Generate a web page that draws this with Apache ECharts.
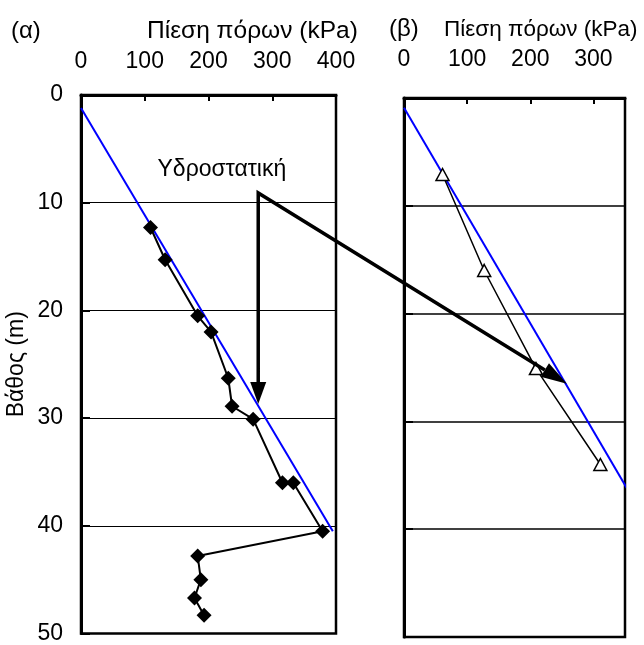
<!DOCTYPE html>
<html>
<head>
<meta charset="utf-8">
<script src="https://cdn.jsdelivr.net/npm/echarts@6/dist/echarts.min.js"></script>
<style>
  html, body { margin: 0; padding: 0; background: #fff; }
  #chart { width: 644px; height: 645px; }
</style>
</head>
<body>
<div id="chart"></div>
<script>
const FONT = '"Liberation Sans", Arial, sans-serif';

// Panel (α): measured pore pressure with depth
const depthA    = [12.3, 15.3, 20.5, 22.0, 26.3, 28.9, 30.1, 36.0, 36.0, 40.5, 42.8, 45.0, 46.7, 48.3];
const pressureA = [109, 132, 183, 204, 231, 237, 270, 316, 333, 379, 183, 188, 178, 193];
// Panel (α): hydrostatic line
const hydroDepthA    = [1.2, 40.5];
const hydroPressureA = [0, 395];

// Panel (β): measured pore pressure with depth
const depthB    = [7.1, 16.0, 25.1, 34.0];
const pressureB = [61, 127, 209, 311];
// Panel (β): hydrostatic line
const hydroDepthB    = [0.9, 36.9];
const hydroPressureB = [0, 360];

// Axis ranges
const pressureMaxA = 400;
const pressureMaxB = 350;
const pressureStep = 100;
const depthMax = 50;
const depthStep = 10;

// Annotation anchors, in each panel's own units [kPa, m]
const labelAnchorA = [221, 6.9];
const bendA = [278, 9.1];
const tipDownA = [278, 28.7];
const tipRightB = [258, 26.5];

const pairs = (xs, ys) => xs.map((x, i) => [x, ys[i]]);

const chart = echarts.init(document.getElementById('chart'), null, { renderer: 'canvas' });

const txt = { color: '#000', fontFamily: FONT, fontSize: 23 };
const titleTxt = size => ({ color: '#000', fontFamily: FONT, fontSize: size, fontWeight: 'normal' });

function xAxis(gridIndex, max, margin) {
  return {
    type: 'value', gridIndex, position: 'top', min: 0, max, interval: pressureStep,
    axisLine: { show: true, onZero: false, lineStyle: { color: '#000', width: 3 } },
    axisTick: { show: true, inside: true, length: 6, lineStyle: { color: '#000', width: 2 } },
    axisLabel: Object.assign({ margin, showMaxLabel: max % pressureStep === 0 }, txt),
    splitLine: { show: false }
  };
}

function yAxis(gridIndex, showLabels, gridWidth) {
  return {
    type: 'value', gridIndex, inverse: true, min: 0, max: depthMax, interval: depthStep,
    name: showLabels ? 'Βάθος (m)' : '', nameLocation: 'middle', nameRotate: 90, nameGap: 53,
    nameTextStyle: txt,
    axisLine: { show: true, onZero: false, lineStyle: { color: '#000', width: 3 } },
    axisTick: { show: true, inside: true, length: 9, lineStyle: { color: '#000', width: 2 } },
    axisLabel: Object.assign({ show: showLabels, margin: 18 }, txt),
    splitLine: { show: true, lineStyle: { color: '#000', width: gridWidth } }
  };
}

chart.setOption({
  animation: false,
  backgroundColor: '#fff',
  title: [
    { text: '(α)', left: 6, top: 14, textStyle: titleTxt(24) },
    { text: 'Πίεση πόρων (kPa)', left: 142, top: 14, textStyle: titleTxt(24.5) },
    { text: '(β)', left: 384, top: 12, textStyle: titleTxt(24) },
    { text: 'Πίεση πόρων (kPa)', left: 439, top: 13, textStyle: titleTxt(22.5) }
  ],
  grid: [
    { left: 81, top: 95, width: 255, height: 541, show: true, borderColor: '#000', borderWidth: 2.5, backgroundColor: 'transparent' },
    { left: 404, top: 98, width: 221, height: 539, show: true, borderColor: '#000', borderWidth: 2.5, backgroundColor: 'transparent' }
  ],
  xAxis: [xAxis(0, pressureMaxA, 22), xAxis(1, pressureMaxB, 27)],
  yAxis: [yAxis(0, true, 1), yAxis(1, false, 1.6)],
  series: [
    {
      type: 'line', xAxisIndex: 0, yAxisIndex: 0, data: pairs(hydroPressureA, hydroDepthA),
      showSymbol: false, symbol: 'none', clip: false,
      lineStyle: { color: '#0000ff', width: 2 }, z: 3
    },
    {
      type: 'line', xAxisIndex: 0, yAxisIndex: 0, data: pairs(pressureA, depthA),
      symbol: 'diamond', symbolSize: 15, clip: false,
      lineStyle: { color: '#000', width: 2 }, itemStyle: { color: '#000' }, z: 4
    },
    {
      type: 'line', xAxisIndex: 1, yAxisIndex: 1, data: pairs(hydroPressureB, hydroDepthB),
      showSymbol: false, symbol: 'none', clip: false,
      lineStyle: { color: '#0000ff', width: 2 }, z: 3
    },
    {
      type: 'line', xAxisIndex: 1, yAxisIndex: 1, data: pairs(pressureB, depthB),
      symbol: 'triangle', symbolSize: [13, 12], clip: false,
      lineStyle: { color: '#000', width: 1.5 },
      itemStyle: { color: '#fff', borderColor: '#000', borderWidth: 1.5 }, z: 4
    }
  ]
});

// Arrows and the "Υδροστατική" label, placed from the panels' own scales
function arrowHead(from, tip, len, half) {
  const dx = tip[0] - from[0], dy = tip[1] - from[1];
  const d = Math.hypot(dx, dy), ux = dx / d, uy = dy / d;
  const base = [tip[0] - ux * len, tip[1] - uy * len];
  return {
    base,
    points: [tip, [base[0] - uy * half, base[1] + ux * half], [base[0] + uy * half, base[1] - ux * half]]
  };
}

const bend = chart.convertToPixel({ gridIndex: 0 }, bendA);
const tipDown = chart.convertToPixel({ gridIndex: 0 }, tipDownA);
const tipRight = chart.convertToPixel({ gridIndex: 1 }, tipRightB);
const label = chart.convertToPixel({ gridIndex: 0 }, labelAnchorA);
const headDown = arrowHead(bend, tipDown, 22, 8);
const headRight = arrowHead(bend, tipRight, 26, 8);

chart.setOption({
  graphic: [
    {
      type: 'polyline', z: 100, silent: true,
      shape: { points: [headDown.base, bend, headRight.base] },
      style: { stroke: '#000', lineWidth: 3.5, fill: null, lineJoin: 'miter' }
    },
    { type: 'polygon', z: 100, silent: true, shape: { points: headDown.points }, style: { fill: '#000' } },
    { type: 'polygon', z: 100, silent: true, shape: { points: headRight.points }, style: { fill: '#000' } },
    {
      type: 'text', z: 100, silent: true, x: label[0], y: label[1],
      style: { text: 'Υδροστατική', fill: '#000', font: '23px ' + FONT, align: 'center', verticalAlign: 'middle' }
    }
  ]
});
</script>
</body>
</html>
